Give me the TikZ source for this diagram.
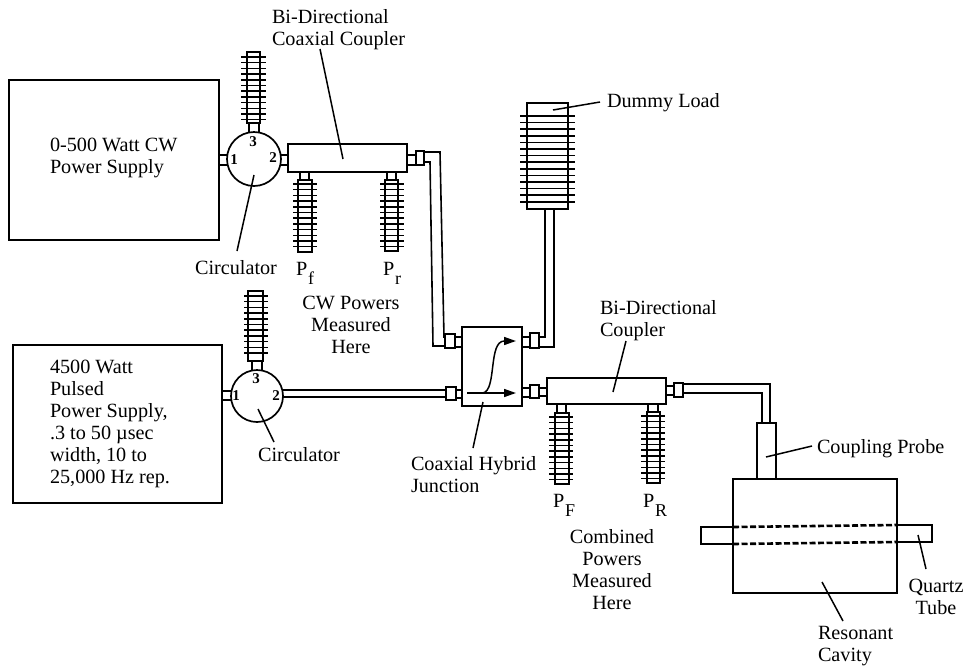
\documentclass[tikz,border=0pt]{standalone}
\usepackage{fontspec}
\setmainfont{Liberation Serif}
\usetikzlibrary{arrows.meta}
\tikzset{
  x=1pt,y=-1pt,
  part/.style={draw=black,fill=white,line width=1.7pt,inner sep=0pt,outer sep=0pt,rectangle},
  small part/.style={part,line width=1.4pt},
  wire/.style={line width=1.6pt,line join=miter},
  fin/.style={line width=1.5pt},
  leader/.style={line width=1.5pt},
  port/.style={draw=black,fill=white,line width=1.7pt,circle,inner sep=0pt,outer sep=0pt},
  lbl/.style={font=\fontsize{20.2}{22}\selectfont,inner sep=0pt,outer sep=0pt,align=center},
  lbll/.style={lbl,align=left,anchor=west},
  num/.style={font=\fontsize{15}{15}\selectfont\bfseries,inner sep=0pt},
  flow/.style={line width=1.5pt,-{Triangle[length=12pt,width=8pt]}},
  dash line/.style={line width=2.6pt,dash pattern=on 6pt off 2.5pt}
}
% box from corners
\newcommand{\rbox}[6][part]{%
  \pgfmathsetmacro{\bw}{#5-#3}\pgfmathsetmacro{\bh}{#6-#4}%
  \pgfmathsetmacro{\bx}{(#3+#5)/2}\pgfmathsetmacro{\by}{(#4+#6)/2}%
  \node[#1,minimum width=\bw pt,minimum height=\bh pt] (#2) at (\bx,\by) {};}
% finned load: name, body x1 y1 x2 y2, fin x1 x2, first fin y, count
\newcommand{\finstep}{5.7}
\newcommand{\fload}[9]{%
  \rbox[small part]{#1}{#2}{#3}{#4}{#5}%
  \foreach \fidx in {1,...,#9}{%
    \pgfmathsetmacro{\fy}{#8+(\fidx-1)*\finstep}%
    \draw[fin] (#6,\fy) -- (#7,\fy);}}
\newcommand{\Psub}[1]{P\raisebox{-9pt}{\fontsize{18}{18}\selectfont\kern1pt #1}}
\begin{document}
\begin{tikzpicture}
\useasboundingbox (0,0) rectangle (966,665);
\fill[white] (0,0) rectangle (966,665);

% supplies
\rbox{cw}{9}{80}{219}{240}
\rbox{pulse}{13}{345}{222}{503}
\node[lbll] (cwtxt) at (50,158) {0-500 Watt CW\\Power Supply};
\node[lbll] (pulsetxt) at (50,424) {4500 Watt\\Pulsed\\Power Supply,\\.3 to 50 µsec\\width, 10 to\\25,000 Hz rep.};

% top circulator
\rbox[small part]{cs1}{219}{155}{229}{165}
\rbox[small part]{cs3}{249}{122}{259}{134}
\rbox[small part]{cs2}{280}{155}{288}{165}
\node[port,minimum size=54pt] (circA) at (254,159) {};
\node[num] (cA1) at (234,160) {1};
\node[num] (cA2) at (273,158) {2};
\node[num] (cA3) at (253,142) {3};
\fload{loadA}{247}{52}{260}{123}{241}{266}{57}{12}

% top coupler
\rbox{coupA}{288}{144}{407}{172}
\rbox[small part]{cpA1}{300}{172}{309}{180}
\rbox[small part]{cpA2}{387}{172}{396}{180}
\fload{loadPf}{298}{180}{312}{252}{293}{317}{184}{12}
\fload{loadPr}{385}{180}{398}{251}{380}{404}{184}{12}
\rbox[small part]{cpA3}{407}{155}{416}{165}
\rbox[small part]{conA}{416}{151}{424}{165}

% lower circulator
\rbox[small part]{ds1}{222}{391}{232}{400}
\rbox[small part]{ds3}{252}{360}{262}{371}
\node[port,minimum size=52pt] (circB) at (257,396) {};
\node[num] (dB1) at (236,396) {1};
\node[num] (dB2) at (276,396) {2};
\node[num] (dB3) at (256,379) {3};
\fload{loadB}{248}{291}{263}{361}{244}{268}{296}{11}

% hybrid
\rbox{hyb}{462}{327}{522}{406}
\rbox[small part]{hs1}{455}{337}{462}{347}
\rbox[small part]{hc1}{445}{334}{455}{348}
\rbox[small part]{hs2}{456}{390}{462}{398}
\rbox[small part]{hc2}{446}{387}{456}{400}
\rbox[small part]{hs3}{522}{337}{530}{347}
\rbox[small part]{hc3}{530}{333}{539}{348}
\rbox[small part]{hs4}{522}{388}{530}{397}
\rbox[small part]{hc4}{530}{385}{539}{398}
\rbox[small part]{hs5}{539}{388}{547}{396}

% flows in hybrid
\coordinate (fA) at (467,393);
\coordinate (fB) at (516,393);
\coordinate (fC) at (483,393);
\coordinate (fD) at (516,341);
\draw[flow] (fA) -- (fB);
\draw[flow] (fC) .. controls (497,390) and (488,341) .. (fD);

% lower coupler
\rbox{coupB}{547}{378}{666}{404}
\rbox[small part]{cpB1}{557}{404}{566}{413}
\rbox[small part]{cpB2}{648}{404}{658}{412}
\fload{loadPF}{555}{413}{569}{484}{549}{573}{417}{12}
\fload{loadPR}{647}{412}{660}{483}{641}{665}{416}{12}
\rbox[small part]{cpB3}{666}{386}{674}{395}
\rbox[small part]{conB}{674}{383}{683}{397}

% dummy load
\rbox{dummy}{527}{103}{568}{209}
\foreach \fy in {116,122.6,129.2,135.8,142.4,149,155.6,162.2,168.8,175.4,182,188.6,195.2,202}{\draw[fin](520,\fy)--(575,\fy);}

% probe and cavity
\rbox{probe}{757}{423}{776}{481}
\rbox{tubeL}{701}{527}{740}{544}
\rbox{tubeR}{890}{525}{932}{542}
\rbox{cavity}{733}{479}{897}{593}
\coordinate (dl1) at (733,527);\coordinate (dl2) at (897,525);
\coordinate (dl3) at (733,544);\coordinate (dl4) at (897,542);
\draw[dash line] (dl1) -- (dl2);
\draw[dash line] (dl3) -- (dl4);

% coaxial runs
\coordinate (wa) at (440,152);\coordinate (wa2) at (444,337);
\coordinate (wb) at (430,162);\coordinate (wb2) at (433,346);
\draw[wire] (424,152) -- (wa) -- (wa2) -- (445,337);
\draw[wire] (424,162) -- (wb) -- (wb2) -- (445,346);
\coordinate (wc) at (283,390);\coordinate (wd) at (283,397);
\draw[wire] (wc) -- (446,390);
\draw[wire] (wd) -- (446,397);
\draw[wire] (539,347) -- (554,347) -- (554,209);
\draw[wire] (539,337) -- (545,337) -- (545,209);
\draw[wire] (683,384) -- (770,384) -- (770,423);
\draw[wire] (683,393) -- (762,393) -- (762,423);

% labels and leaders
\node[lbll] (tBi) at (272,30) {Bi-Directional\\Coaxial Coupler};
\coordinate (eBi) at (343,159);
\draw[leader] (320,49) -- (eBi);
\node[lbl] (tCa) at (236,268) {Circulator};
\draw[leader] (237,251) -- (254,175);
\node[lbl] (tCb) at (299,455) {Circulator};
\draw[leader] (274,442) -- (258,409);
\node[lbll] (tPf) at (296,273) {\Psub{f}};
\node[lbll] (tPr) at (383,273) {\Psub{r}};
\node[lbl] (tCW) at (351,325) {CW Powers\\Measured\\Here};
\node[lbll] (tHy) at (411,475) {Coaxial Hybrid\\Junction};
\draw[leader] (473,448) -- (483,402);
\node[lbll] (tDu) at (607,103) {Dummy Load};
\draw[leader] (600,102) -- (553,110);
\node[lbll] (tBD) at (600,321) {Bi-Directional\\Coupler};
\draw[leader] (626,341) -- (613,392);
\node[lbll] (tPF) at (553,505) {\Psub{F}};
\node[lbll] (tPR) at (643,505) {\Psub{R}};
\node[lbl] (tCo) at (612,570) {Combined\\Powers\\Measured\\Here};
\node[lbll] (tPr2) at (817,449) {Coupling Probe};
\draw[leader] (812,446) -- (766,457);
\node[lbl] (tQu) at (936,597) {Quartz\\Tube};
\draw[leader] (918,535) -- (926,569);
\node[lbll] (tRe) at (818,646) {Resonant\\Cavity};
\draw[leader] (822,582) -- (843,621);
\end{tikzpicture}
\end{document}
